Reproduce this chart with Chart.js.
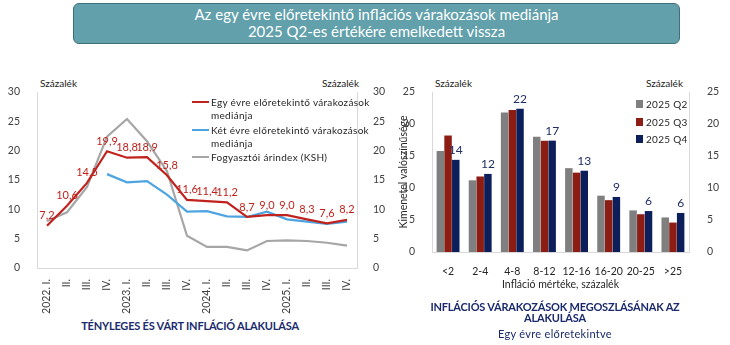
<!DOCTYPE html>
<html>
<head>
<meta charset="utf-8">
<script src="https://cdn.jsdelivr.net/npm/chart.js@4/dist/chart.umd.min.js"></script>
<style>
body { margin: 0; width: 730px; height: 345px; position: relative; background: #fff; overflow: hidden;
  font-family: Lato, 'Liberation Sans', sans-serif; color: #404040; }
.banner { position: absolute; left: 73px; top: 3px; width: 605px; height: 37px; background: #62a0ab;
  border: 1px solid #3f6f78; border-radius: 6px; color: #fff; text-align: center; font-size: 15px; line-height: 17px; padding-top: 2px; }
.abs { position: absolute; white-space: nowrap; }
.unit { font-size: 10px; color: #222; top: 77px; }
.lg { font-size: 10px; color: #262626; line-height: 13px; letter-spacing: 0.3px; }
.ln { position: absolute; left: 0; top: 5px; width: 17px; height: 0; border-top: 2px solid; }
.sq { position: absolute; left: 0; top: 2px; width: 7px; height: 8px; }
.ttl { font-weight: bold; color: #1a2a6c; font-size: 11px; text-align: center; line-height: 11px; letter-spacing: -0.2px; }
</style>
</head>
<body>
<div class="banner">Az egy évre előretekintő inflációs várakozások mediánja<br>2025 Q2-es értékére emelkedett vissza</div>

<div class="abs unit" style="left:40px">Százalék</div>
<div class="abs unit" style="left:322px">Százalék</div>
<div class="abs unit" style="left:435px">Százalék</div>
<div class="abs unit" style="left:646px">Százalék</div>

<div style="position:absolute;left:0;top:75px;width:385px;height:240px"><canvas id="leftChart"></canvas></div>
<div style="position:absolute;left:380px;top:75px;width:350px;height:220px"><canvas id="rightChart"></canvas></div>

<!-- legend, left chart -->
<div class="abs lg" style="left:192px;top:96px;padding-left:19px">
  <span class="ln" style="border-color:#c0231e"></span>Egy évre előretekintő várakozások<br>mediánja</div>
<div class="abs lg" style="left:192px;top:124px;padding-left:19px">
  <span class="ln" style="border-color:#4ea4e0"></span>Két évre előretekintő várakozások<br>mediánja</div>
<div class="abs lg" style="left:192px;top:151px;padding-left:19px">
  <span class="ln" style="border-color:#a6a6a6"></span>Fogyasztói árindex (KSH)</div>

<!-- legend, right chart -->
<div class="abs lg" style="left:636px;top:98px;padding-left:10px"><span class="sq" style="background:#7f7f7f"></span>2025 Q2</div>
<div class="abs lg" style="left:636px;top:116px;padding-left:10px"><span class="sq" style="background:#8b1d14"></span>2025 Q3</div>
<div class="abs lg" style="left:636px;top:133px;padding-left:10px"><span class="sq" style="background:#0c1f5b"></span>2025 Q4</div>

<div class="abs ttl" style="left:40px;width:300px;top:320px">TÉNYLEGES ÉS VÁRT INFLÁCIÓ ALAKULÁSA</div>
<div class="abs ttl" style="left:405px;width:300px;top:301px">INFLÁCIÓS VÁRAKOZÁSOK MEGOSZLÁSÁNAK AZ<br>ALAKULÁSA</div>
<div class="abs" style="left:405px;width:300px;top:327px;text-align:center;font-size:11px;color:#1a2a6c;letter-spacing:0.3px">Egy évre előretekintve</div>

<script>
'use strict';

// left chart data
let quarters = ['2022. I.', 'II.', 'III.', 'IV.', '2023. I.', 'II.', 'III.', 'IV.',
                '2024. I.', 'II.', 'III.', 'IV.', '2025. I.', 'II.', 'III.', 'IV.'];
let oneYear = [7.2, 10.6, 14.5, 19.9, 18.8, 18.9, 15.8, 11.6, 11.4, 11.2, 8.7, 9.0, 9.0, 8.3, 7.6, 8.2];
let twoYear = [null, null, null, 16.0, 14.6, 14.8, 12.5, 9.6, 9.7, 8.8, 8.7, 9.6, 8.3, 7.9, 7.5, 7.9];
let cpi = [8.0, 9.5, 13.8, 22.4, 25.4, 21.6, 16.5, 5.5, 3.6, 3.6, 3.0, 4.6, 4.7, 4.6, 4.3, 3.8];
let leftTicks = [0, 5, 10, 15, 20, 25, 30];

// right chart data
let ranges = ['<2', '2-4', '4-8', '8-12', '12-16', '16-20', '20-25', '>25'];
let q2 = [15.8, 11.2, 21.8, 18.0, 13.1, 8.8, 6.5, 5.4];
let q3 = [18.2, 11.8, 22.2, 17.4, 12.4, 8.1, 5.9, 4.6];
let q4 = [14.4, 12.2, 22.4, 17.4, 12.7, 8.6, 6.4, 6.1];
let rightTicks = [0, 5, 10, 15, 20, 25];

let fontFam = "Lato, 'Liberation Sans', sans-serif";
let axisLine = '#d9d9d9';

// draws value labels above the points of one dataset
function valueLabels(dsIndex, color, size, fmt) {
    return {
        id: 'labels' + dsIndex,
        afterDatasetsDraw(chart) {
            let ctx = chart.ctx;
            let meta = chart.getDatasetMeta(dsIndex);
            let data = chart.data.datasets[dsIndex].data;
            ctx.save();
            ctx.fillStyle = color;
            ctx.font = size + 'px ' + fontFam;
            ctx.textAlign = 'center';
            ctx.textBaseline = 'middle';
            meta.data.forEach(function (el, i) {
                if (data[i] == null) return;
                ctx.fillText(fmt(data[i]), el.x, el.y - 10);
            });
            ctx.restore();
        }
    };
}

function yAxis(pos, width, max, pad, extra) {
    let ax = {
        position: pos,
        min: 0, max: max,
        afterBuildTicks(s) { s.ticks = (max === 30 ? leftTicks : rightTicks).map(v => ({ value: v })); },
        grid: { display: false },
        border: { color: axisLine },
        ticks: { color: '#404040', font: { size: 10.5, family: fontFam }, padding: pad, minRotation: 0, maxRotation: 0 },
        afterFit(s) { s.width = width; }
    };
    return Object.assign(ax, extra || {});
}

new Chart(document.getElementById('leftChart'), {
    type: 'line',
    data: {
        labels: quarters,
        datasets: [
            { label: 'Egy évre előretekintő várakozások mediánja', data: oneYear, borderColor: '#c0231e', borderWidth: 2.2, pointRadius: 0, tension: 0 },
            { label: 'Két évre előretekintő várakozások mediánja', data: twoYear, borderColor: '#4ea4e0', borderWidth: 2.2, pointRadius: 0, tension: 0 },
            { label: 'Fogyasztói árindex (KSH)', data: cpi, borderColor: '#a6a6a6', borderWidth: 2.2, pointRadius: 0, tension: 0 }
        ]
    },
    options: {
        responsive: true,
        maintainAspectRatio: false,
        animation: false,
        layout: { padding: { top: 17 } },
        plugins: { legend: { display: false }, tooltip: { enabled: false } },
        scales: {
            x: {
                offset: true,
                grid: { display: false },
                border: { color: axisLine },
                ticks: { color: '#404040', font: { size: 10.5, family: fontFam }, minRotation: 90, maxRotation: 90, autoSkip: false, padding: 3 },
                afterFit(s) { s.height = 47; }
            },
            y: yAxis('left', 37, 30, 9),
            y2: yAxis('right', 28, 30, 8)
        }
    },
    plugins: [valueLabels(0, '#c0231e', 11, v => v.toFixed(1).replace('.', ','))]
});

new Chart(document.getElementById('rightChart'), {
    type: 'bar',
    data: {
        labels: ranges,
        datasets: [
            { label: '2025 Q2', data: q2, backgroundColor: '#7f7f7f' },
            { label: '2025 Q3', data: q3, backgroundColor: '#8b1d14' },
            { label: '2025 Q4', data: q4, backgroundColor: '#0c1f5b' }
        ]
    },
    options: {
        responsive: true,
        maintainAspectRatio: false,
        animation: false,
        layout: { padding: { top: 17 } },
        datasets: { bar: { barPercentage: 0.97, categoryPercentage: 0.72 } },
        plugins: { legend: { display: false }, tooltip: { enabled: false } },
        scales: {
            x: {
                grid: { display: false },
                border: { color: axisLine },
                ticks: { color: '#262626', font: { size: 10.5, family: fontFam }, padding: 5, maxRotation: 0, autoSkip: false },
                title: { display: true, text: 'Infláció mértéke, százalék', color: '#262626', font: { size: 10.5, family: fontFam }, padding: { top: 3 } },
                afterFit(s) { s.height = 43; }
            },
            y: yAxis('left', 52, 25, 9, {
                title: { display: true, text: 'Kimenetel valószínűsége', color: '#262626', font: { size: 10.5, family: fontFam }, padding: { top: 17, bottom: 0 } }
            }),
            y2: yAxis('right', 41, 25, 10)
        }
    },
    plugins: [valueLabels(2, '#1f2f66', 12, v => String(Math.round(v)))]
});
</script>
</body>
</html>
